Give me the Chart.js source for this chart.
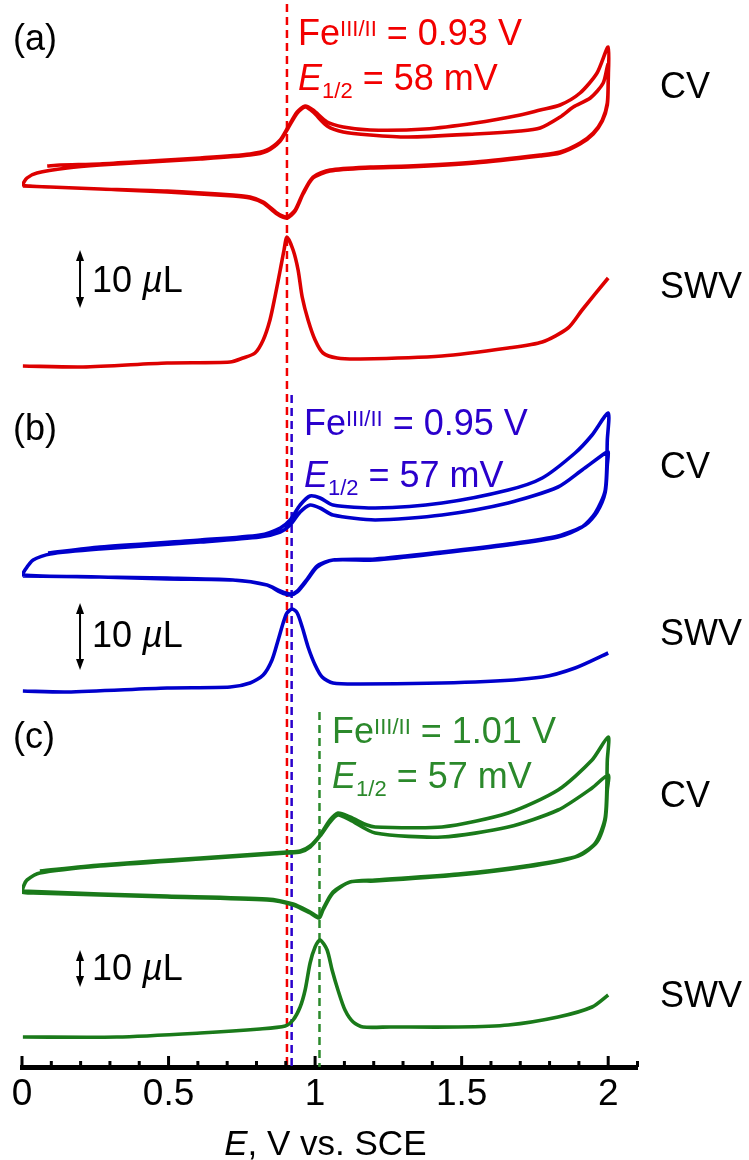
<!DOCTYPE html>
<html>
<head>
<meta charset="utf-8">
<script src="https://cdn.jsdelivr.net/npm/chart.js@4.4.1/dist/chart.umd.min.js"></script>
<style>
  html, body { margin: 0; padding: 0; background: #fff; }
</style>
</head>
<body>
<canvas id="cv" width="749" height="1160"></canvas>
<script>
// E in V vs. SCE, current in stacked arbitrary units (each trace offset in its panel)
const cvA = [
  [0.086,90.1],[0.130,90.2],[0.266,90.3],[0.437,90.6],[0.608,90.9],[0.778,91.3],[0.836,91.7],[0.881,92.7],[0.908,94.0],[0.939,95.5],[0.966,96.1],[0.993,95.7],[1.041,94.5],[1.096,94.0],[1.188,93.7],[1.375,93.8],[1.546,94.4],[1.700,95.2],[1.768,95.7],[1.836,96.2],[1.904,97.4],[1.962,99.4],[2.000,102.0],
  [2.000,98.7],[1.997,96.4],[1.980,94.7],[1.949,93.4],[1.904,92.4],[1.836,91.5],[1.768,91.2],[1.546,90.5],[1.317,90.1],[1.188,90.0],[1.051,89.7],[0.993,89.0],[0.959,87.4],[0.932,85.7],[0.904,85.0],[0.870,85.4],[0.823,86.5],[0.778,87.0],[0.720,87.2],[0.495,87.6],[0.266,87.8],[0.096,88.0],[0.027,88.1],[0.003,88.2],
  [0.017,88.9],[0.051,89.4],[0.154,89.9],[0.266,90.2],[0.437,90.5],[0.608,90.8],[0.778,91.2],[0.836,91.6],[0.881,92.6],[0.908,93.9],[0.939,95.4],[0.966,96.0],[0.993,95.5],[1.041,94.1],[1.096,93.5],[1.188,93.2],[1.317,93.0],[1.546,93.3],[1.700,93.6],[1.768,93.9],[1.836,95.0],[1.881,96.0],[1.939,96.9],[1.983,98.4],[2.000,100.4],
  [2.000,98.4],[1.997,96.2],[1.980,94.6],[1.949,93.3],[1.904,92.3],[1.836,91.4],[1.768,91.1],[1.546,90.4],[1.317,90.0],[1.188,89.9],[1.051,89.6],[0.993,88.9],[0.959,87.3],[0.932,85.6],[0.904,84.9],[0.870,85.3],[0.823,86.4],[0.778,86.9],[0.720,87.1],[0.495,87.5],[0.266,87.8],[0.096,88.0],[0.003,88.1]
];
const swvA = [
  [0.003,70.1],[0.208,70.0],[0.495,70.4],[0.710,70.5],[0.754,70.9],[0.795,71.4],[0.823,72.7],[0.846,74.7],[0.863,77.0],[0.881,79.7],[0.894,81.7],[0.904,83.0],[0.925,81.7],[0.942,79.7],[0.956,77.0],[0.976,74.7],[1.000,72.7],[1.027,71.4],[1.075,70.9],[1.154,70.8],[1.433,71.1],[1.659,71.9],[1.775,72.5],[1.863,73.9],[1.911,75.7],[2.000,78.9]
];
const cvB = [
  [0.089,51.4],[0.266,52.0],[0.608,52.7],[0.812,53.2],[0.881,53.9],[0.915,54.7],[0.949,56.2],[0.983,57.1],[1.017,56.9],[1.061,56.2],[1.205,55.9],[1.433,56.4],[1.659,57.7],[1.775,58.9],[1.887,61.4],[1.945,63.2],[2.000,65.4],
  [1.997,62.7],[1.990,57.7],[1.956,55.4],[1.911,54.0],[1.829,53.0],[1.659,52.2],[1.433,51.4],[1.205,50.7],[1.061,50.7],[1.007,50.0],[0.973,48.7],[0.939,47.5],[0.915,47.2],[0.881,47.5],[0.836,48.2],[0.720,48.7],[0.495,48.8],[0.266,49.0],[0.003,49.2],
  [0.010,49.7],[0.038,50.7],[0.096,51.3],[0.266,51.8],[0.608,52.5],[0.812,53.0],[0.881,53.5],[0.915,54.2],[0.949,55.5],[0.983,56.2],[1.017,55.9],[1.061,55.2],[1.205,54.7],[1.433,55.2],[1.659,56.4],[1.829,58.0],[1.911,59.7],[1.990,61.4],[2.000,61.5],
  [1.997,60.2],[1.990,57.5],[1.962,55.5],[1.922,54.2],[1.829,53.1],[1.659,52.3],[1.433,51.5],[1.205,50.8],[1.061,50.7],[1.007,50.1],[0.973,48.8],[0.939,47.6],[0.915,47.3],[0.881,47.6],[0.836,48.2],[0.720,48.7],[0.495,48.9],[0.266,49.0],[0.003,49.1]
];
const swvB = [
  [0.003,37.6],[0.154,37.5],[0.495,37.9],[0.710,38.0],[0.778,38.4],[0.823,39.2],[0.853,40.7],[0.874,42.7],[0.891,44.4],[0.904,45.4],[0.922,45.8],[0.939,45.4],[0.956,44.0],[0.976,42.0],[1.000,40.2],[1.024,39.0],[1.061,38.4],[1.154,38.3],[1.546,38.5],[1.775,39.0],[1.887,39.9],[2.000,41.4]
];
const cvC = [
  [0.061,19.6],[0.266,20.2],[0.608,20.9],[0.904,21.5],[0.949,21.6],[0.983,22.1],[1.017,23.2],[1.051,24.7],[1.078,25.4],[1.119,25.0],[1.177,24.2],[1.205,24.0],[1.433,24.0],[1.659,25.4],[1.829,27.7],[1.945,30.7],[2.000,33.0],
  [1.997,30.7],[1.990,25.0],[1.956,22.4],[1.887,21.0],[1.717,20.0],[1.488,19.2],[1.205,18.6],[1.119,18.5],[1.061,17.4],[1.027,15.7],[1.014,14.9],[0.983,15.4],[0.925,16.2],[0.836,16.7],[0.495,17.0],[0.266,17.2],[0.038,17.4],[0.000,17.5],
  [0.007,18.2],[0.017,18.7],[0.061,19.4],[0.266,20.1],[0.608,20.8],[0.904,21.4],[0.949,21.5],[0.983,22.0],[1.017,23.1],[1.051,24.5],[1.078,25.2],[1.119,24.7],[1.205,23.4],[1.433,23.0],[1.659,24.0],[1.829,25.7],[1.945,27.9],[2.000,29.2],
  [1.997,27.7],[1.990,24.7],[1.962,22.5],[1.898,21.1],[1.717,20.1],[1.488,19.3],[1.205,18.7],[1.119,18.5],[1.061,17.5],[1.027,15.8],[1.014,15.0],[0.983,15.5],[0.925,16.3],[0.836,16.8],[0.495,17.1],[0.266,17.3],[0.000,17.6]
];
const swvC = [
  [0.003,3.0],[0.324,3.0],[0.608,3.4],[0.812,3.8],[0.898,4.1],[0.925,4.7],[0.949,6.0],[0.966,7.7],[0.983,10.4],[1.000,12.0],[1.017,12.7],[1.041,11.7],[1.058,9.7],[1.078,7.7],[1.102,5.7],[1.130,4.5],[1.164,4.0],[1.256,4.0],[1.488,4.0],[1.659,4.2],[1.829,5.0],[1.945,6.0],[2.000,7.2]
];

// SWV peak potentials marked with dashed guides
const peakE = [0.904, 0.920, 1.015];
const panelTags = ['(a)', '(b)', '(c)'];
const feValues = ['0.93 V', '0.95 V', '1.01 V'];
const halfWaves = ['58 mV', '57 mV', '57 mV'];
const scaleBarSize = [5.8, 6.7, 3.7];   // 10 µL in plot units, per panel
const tickValues = [0, 0.5, 1, 1.5, 2];

const lineColors = ['#dd0000', '#0000cc', '#1a7a1a'];
const textColors = ['#f20000', '#2a00cc', '#2b892b'];
const FONT = '"Liberation Sans", Arial, Helvetica, sans-serif';

// anchor points for the annotations (data units)
const place = [
  { tagY: 101.7, feX: 0.942, feY: 102.2, halfY: 97.7, cvY: 96.9, swvY: 76.9, barTop: 81.7, barTextY: 77.5, guideTop: 106.3 },
  { tagY: 62.7,  feX: 0.962, feY: 63.2,  halfY: 58.0, cvY: 58.9, swvY: 42.2, barTop: 46.4, barTextY: 42.0, guideTop: 67.2 },
  { tagY: 31.9,  feX: 1.058, feY: 32.4,  halfY: 27.9, cvY: 26.0, swvY: 6.0,  barTop: 11.7, barTextY: 8.7,  guideTop: 35.5 }
];

const toXY = arr => arr.map(p => ({ x: p[0], y: p[1] }));

const traces = [cvA, swvA, cvB, swvB, cvC, swvC];
const datasets = traces.map((t, i) => ({
  data: toXY(t),
  borderColor: lineColors[Math.floor(i / 2)],
  borderWidth: 3.6,
  borderJoinStyle: 'round',
  showLine: true,
  pointRadius: 0,
  tension: 0.25,
  fill: false
}));
peakE.forEach((e, i) => {
  datasets.push({
    data: [{ x: e, y: place[i].guideTop }, { x: e, y: 0 }],
    borderColor: textColors[i],
    borderWidth: 2.5,
    borderDash: [8, 5],
    showLine: true,
    pointRadius: 0,
    tension: 0
  });
});

function richText(ctx, x, y, parts, color) {
  ctx.fillStyle = color;
  ctx.textAlign = 'left';
  ctx.textBaseline = 'alphabetic';
  let cx = x;
  for (const p of parts) {
    ctx.font = (p.italic ? 'italic ' : '') + p.size + 'px ' + FONT;
    ctx.fillText(p.t, cx, y + (p.dy || 0));
    cx += ctx.measureText(p.t).width;
  }
  return cx - x;
}

function measureRich(ctx, parts) {
  let w = 0;
  for (const p of parts) {
    ctx.font = (p.italic ? 'italic ' : '') + p.size + 'px ' + FONT;
    w += ctx.measureText(p.t).width;
  }
  return w;
}

function vArrow(ctx, x, y1, y2) {
  ctx.save();
  ctx.strokeStyle = '#000';
  ctx.fillStyle = '#000';
  ctx.lineWidth = 2;
  ctx.beginPath();
  ctx.moveTo(x, y1 + 8);
  ctx.lineTo(x, y2 - 8);
  ctx.stroke();
  [[y1, 1], [y2, -1]].forEach(([y, d]) => {
    ctx.beginPath();
    ctx.moveTo(x, y);
    ctx.lineTo(x - 4, y + d * 11);
    ctx.lineTo(x + 4, y + d * 11);
    ctx.closePath();
    ctx.fill();
  });
  ctx.restore();
}

const decorations = {
  id: 'decorations',
  afterDraw(chart) {
    const { ctx, scales: { x, y }, chartArea } = chart;
    ctx.save();

    // inward ticks every 0.1 V, longer at each labelled value
    ctx.strokeStyle = '#000';
    ctx.lineWidth = 3;
    x.ticks.forEach(t => {
      const px = x.getPixelForValue(t.value);
      const major = Math.abs(t.value * 2 - Math.round(t.value * 2)) < 1e-6;
      ctx.beginPath();
      ctx.moveTo(px, chartArea.bottom);
      ctx.lineTo(px, chartArea.bottom - (major ? 11 : 6));
      ctx.stroke();
    });

    const xL = x.getPixelForValue(-0.031);
    const xR = x.getPixelForValue(2.177);
    const xBar = x.getPixelForValue(0.198);
    const xBarText = x.getPixelForValue(0.239);

    place.forEach((p, i) => {
      richText(ctx, xL, y.getPixelForValue(p.tagY), [{ t: panelTags[i], size: 36 }], '#000');
      richText(ctx, x.getPixelForValue(p.feX), y.getPixelForValue(p.feY), [
        { t: 'Fe', size: 36 },
        { t: 'III/II', size: 22, dy: -9 },
        { t: ' = ' + feValues[i], size: 36 }
      ], textColors[i]);
      richText(ctx, x.getPixelForValue(p.feX), y.getPixelForValue(p.halfY), [
        { t: 'E', size: 36, italic: true },
        { t: '1/2', size: 22, dy: 8 },
        { t: ' = ' + halfWaves[i], size: 36 }
      ], textColors[i]);
      richText(ctx, xR, y.getPixelForValue(p.cvY), [{ t: 'CV', size: 36 }], '#000');
      richText(ctx, xR, y.getPixelForValue(p.swvY), [{ t: 'SWV', size: 36 }], '#000');
      vArrow(ctx, xBar, y.getPixelForValue(p.barTop), y.getPixelForValue(p.barTop - scaleBarSize[i]));
      richText(ctx, xBarText, y.getPixelForValue(p.barTextY), [
        { t: '10 ', size: 36 },
        { t: 'µ', size: 36, italic: true },
        { t: 'L', size: 36 }
      ], '#000');
    });

    // axis title
    const title = [{ t: 'E', size: 35, italic: true }, { t: ', V vs. SCE', size: 35 }];
    const w = measureRich(ctx, title);
    richText(ctx, x.getPixelForValue(1.035) - w / 2, chartArea.bottom + 88, title, '#000');

    ctx.restore();
  }
};

new Chart(document.getElementById('cv'), {
  type: 'scatter',
  data: { datasets },
  options: {
    responsive: false,
    animation: false,
    events: [],
    layout: { padding: { left: 22, right: 111.5, top: 0, bottom: 0 } },
    plugins: { legend: { display: false }, tooltip: { enabled: false } },
    scales: {
      x: {
        type: 'linear',
        min: 0,
        max: 2.1,
        afterFit: s => { s.height = 93; },
        grid: { display: true, drawOnChartArea: false, drawTicks: false },
        border: { display: true, color: '#000', width: 5 },
        ticks: {
          stepSize: 0.1,
          autoSkip: false,
          maxRotation: 0,
          padding: 6,
          color: '#000',
          font: { family: FONT, size: 37 },
          callback: v => {
            const hit = tickValues.find(t => Math.abs(t - v) < 1e-6);
            return hit === undefined ? '' : String(hit);
          }
        }
      },
      y: { display: false, min: 0, max: 106.7 }
    }
  },
  plugins: [decorations]
});
</script>
</body>
</html>
